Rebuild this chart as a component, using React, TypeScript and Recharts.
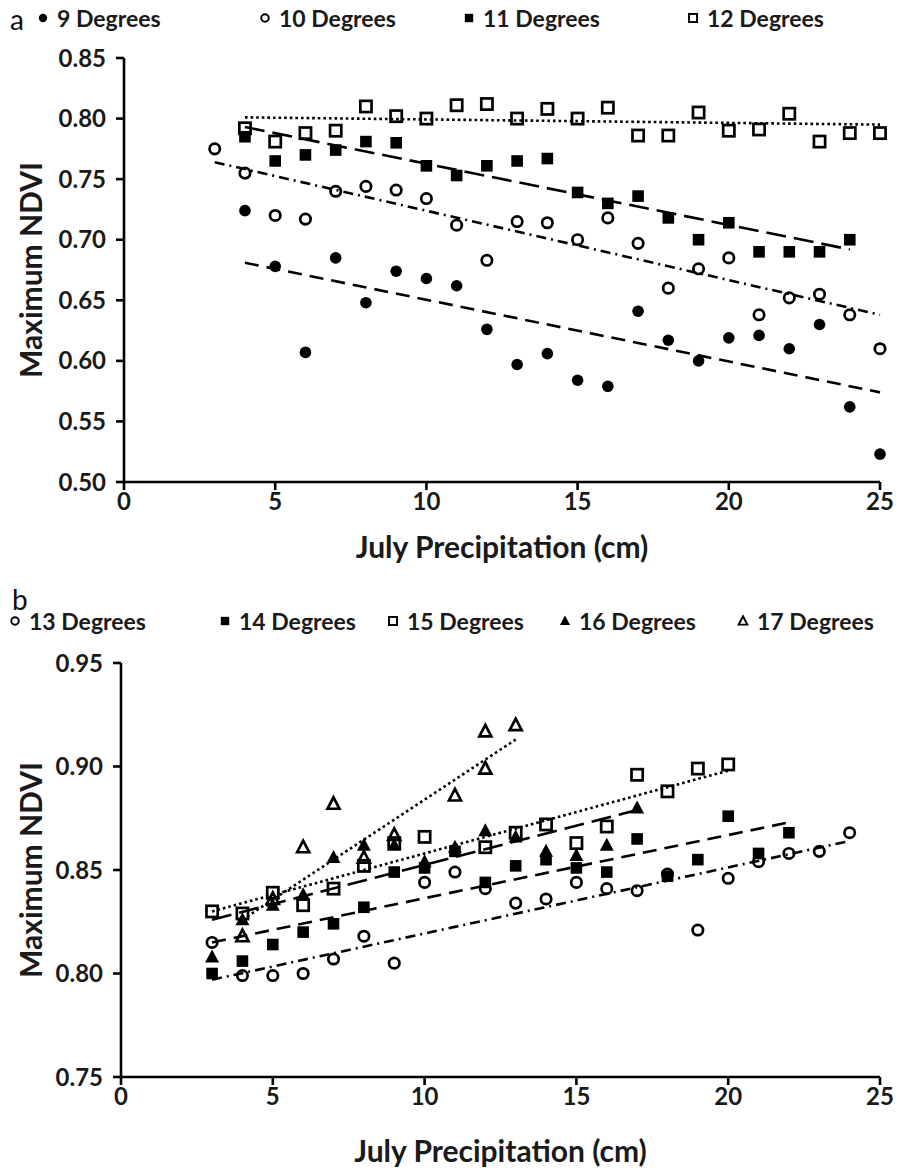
import React from "react";
import { ScatterChart, Scatter, XAxis, YAxis, Label } from "recharts";

// ---- panel a: July precipitation (cm) vs maximum NDVI, 9–12 degrees
const precipA = [3, 4, 5, 6, 7, 8, 9, 10, 11, 12, 13, 14, 15, 16, 17, 18, 19, 20, 21, 22, 23, 24, 25];
const ndvi9 = [null, 0.724, 0.678, 0.607, 0.685, 0.648, 0.674, 0.668, 0.662, 0.626, 0.597, 0.606, 0.584, 0.579, 0.641, 0.617, 0.6, 0.619, 0.621, 0.61, 0.63, 0.562, 0.523];
const ndvi10 = [0.775, 0.755, 0.72, 0.717, 0.74, 0.744, 0.741, 0.734, 0.712, 0.683, 0.715, 0.714, 0.7, 0.718, 0.697, 0.66, 0.676, 0.685, 0.638, 0.652, 0.655, 0.638, 0.61];
const ndvi11 = [null, 0.785, 0.765, 0.77, 0.774, 0.781, 0.78, 0.761, 0.753, 0.761, 0.765, 0.767, 0.739, 0.73, 0.736, 0.718, 0.7, 0.714, 0.69, 0.69, 0.69, 0.7, null];
const ndvi12 = [null, 0.792, 0.781, 0.788, 0.79, 0.81, 0.802, 0.8, 0.811, 0.812, 0.8, 0.808, 0.8, 0.809, 0.786, 0.786, 0.805, 0.79, 0.791, 0.804, 0.781, 0.788, 0.788];
// trend line end points [precip, ndvi]
const trend9 = [[4, 0.681], [25, 0.574]];
const trend10 = [[3, 0.764], [25, 0.638]];
const trend11 = [[4, 0.793], [24, 0.692]];
const trend12 = [[4, 0.801], [25, 0.795]];
const ticksA = [0.5, 0.55, 0.6, 0.65, 0.7, 0.75, 0.8, 0.85];

// ---- panel b: 13–17 degrees
const precipB = [3, 4, 5, 6, 7, 8, 9, 10, 11, 12, 13, 14, 15, 16, 17, 18, 19, 20, 21, 22, 23, 24];
const ndvi13 = [0.815, 0.799, 0.799, 0.8, 0.807, 0.818, 0.805, 0.844, 0.849, 0.841, 0.834, 0.836, 0.844, 0.841, 0.84, 0.848, 0.821, 0.846, 0.854, 0.858, 0.859, 0.868];
const ndvi14 = [0.8, 0.806, 0.814, 0.82, 0.824, 0.832, 0.849, 0.851, 0.859, 0.844, 0.852, 0.855, 0.851, 0.849, 0.865, 0.847, 0.855, 0.876, 0.858, 0.868, null, null];
const ndvi15 = [0.83, 0.829, 0.839, 0.833, 0.841, 0.852, 0.863, 0.866, null, 0.861, 0.868, 0.872, 0.863, 0.871, 0.896, 0.888, 0.899, 0.901, null, null, null, null];
const ndvi16 = [0.808, 0.826, 0.833, 0.838, 0.856, 0.862, 0.862, 0.854, 0.861, 0.869, 0.866, 0.859, 0.857, 0.862, 0.88, null, null, null, null, null, null, null];
const precip17 = [4, 5, 6, 7, 8, 9, 11, 12, 12, 13];
const ndvi17 = [0.818, 0.836, 0.861, 0.882, 0.856, 0.867, 0.886, 0.899, 0.917, 0.92];
const trend13 = [[3, 0.797], [24, 0.864]];
const trend14 = [[3, 0.815], [22, 0.873]];
const trend15 = [[3, 0.83], [20, 0.898]];
const trend16 = [[3, 0.826], [17, 0.879]];
const trend17 = [[4, 0.826], [13, 0.913]];
const ticksB = [0.75, 0.8, 0.85, 0.9, 0.95];

const xTicks = [0, 5, 10, 15, 20, 25];

const toPoints = (xs: number[], ys: (number | null)[]) =>
  xs.map((x, i) => ({ x, y: ys[i] })).filter((p) => p.y != null);
const toLine = (pairs: number[][]) => pairs.map(([x, y]) => ({ x, y }));

const FONT = "Lato, 'Open Sans', sans-serif";
const INK = "#000";

type Kind = "dot" | "ring" | "box" | "hollowBox" | "tri" | "hollowTri";

function Mark({ kind, cx, cy, s = 1 }: { kind: Kind; cx: number; cy: number; s?: number }) {
  switch (kind) {
    case "dot":
      return <circle cx={cx} cy={cy} r={5.8 * s} fill={INK} />;
    case "ring":
      return <circle cx={cx} cy={cy} r={5.2 * s} fill="none" stroke={INK} strokeWidth={2.7 * s} />;
    case "box":
      return <rect x={cx - 5.8 * s} y={cy - 5.8 * s} width={11.6 * s} height={11.6 * s} fill={INK} />;
    case "hollowBox":
      return (
        <rect x={cx - 5.6 * s} y={cy - 5.6 * s} width={11.2 * s} height={11.2 * s} fill="none" stroke={INK} strokeWidth={2.7 * s} />
      );
    case "tri":
      return <polygon points={`${cx},${cy - 7.5 * s} ${cx + 7 * s},${cy + 5.5 * s} ${cx - 7 * s},${cy + 5.5 * s}`} fill={INK} />;
    case "hollowTri":
      return (
        <polygon
          points={`${cx},${cy - 6.5 * s} ${cx + 6 * s},${cy + 5 * s} ${cx - 6 * s},${cy + 5 * s}`}
          fill="none"
          stroke={INK}
          strokeWidth={2.7 * s}
        />
      );
  }
}

const shapeOf = (kind: Kind) => (p: any) =>
  p.cx == null || p.cy == null ? <g /> : <Mark kind={kind} cx={p.cx} cy={p.cy} />;
const noShape = () => <g />;

const tickStyle = { fontSize: 24, fontWeight: 700, fill: "#1a1a1a", fontFamily: FONT };
const titleStyle = { fontSize: 30, fontWeight: 700, fill: "#1a1a1a", fontFamily: FONT };

const yTitle = (props: any) => {
  const vb = props.viewBox || { y: 0, height: 0 };
  const cx = 30;
  const cy = vb.y + vb.height / 2;
  return (
    <text x={cx} y={cy} transform={`rotate(-90, ${cx}, ${cy})`} textAnchor="middle" dominantBaseline="central" style={titleStyle}>
      Maximum NDVI
    </text>
  );
};

function trendLine(data: number[][], dash: string, key: string) {
  return (
    <Scatter
      key={key}
      data={toLine(data)}
      shape={noShape}
      line={{ stroke: INK, strokeWidth: 2.6, strokeDasharray: dash }}
      lineType="joint"
      isAnimationActive={false}
      legendType="none"
    />
  );
}

function LegendRow({ items, top }: { items: { kind: Kind; label: string; left: number }[]; top: number }) {
  return (
    <>
      {items.map((it) => (
        <div
          key={it.label}
          style={{
            position: "absolute",
            left: it.left,
            top,
            display: "flex",
            alignItems: "center",
            fontFamily: FONT,
            fontWeight: 700,
            fontSize: 23,
            color: "#1a1a1a",
            whiteSpace: "nowrap",
          }}
        >
          <svg width={14} height={14} style={{ marginRight: 7 }}>
            <Mark kind={it.kind} cx={7} cy={7} s={0.72} />
          </svg>
          {it.label}
        </div>
      ))}
    </>
  );
}

const DASH = "14 8";
const LONG_DASH = "20 8";
const DASH_DOT = "10 5 2 5";
const DOTS = "2.6 3";

export default function App() {
  const xAxisProps = {
    type: "number" as const,
    dataKey: "x",
    domain: [0, 25],
    ticks: xTicks,
    tick: tickStyle,
    tickSize: 8,
    tickMargin: 3,
    stroke: INK,
    strokeWidth: 2.6,
    tickLine: { stroke: INK, strokeWidth: 2.6 },
  };
  const yAxisProps = {
    type: "number" as const,
    dataKey: "y",
    tick: tickStyle,
    tickSize: 8,
    tickMargin: 10,
    tickFormatter: (v: number) => v.toFixed(2),
    stroke: INK,
    strokeWidth: 2.6,
    tickLine: { stroke: INK, strokeWidth: 2.6 },
  };
  return (
    <div style={{ position: "absolute", left: 0, top: 0, width: 899, height: 1173, background: "#fff" }}>
      <div style={{ position: "absolute", left: 10, top: 2, fontFamily: FONT, fontSize: 28, color: "#111" }}>a</div>
      <LegendRow
        top={4}
        items={[
          { kind: "dot", label: "9 Degrees", left: 36 },
          { kind: "ring", label: "10 Degrees", left: 258 },
          { kind: "box", label: "11 Degrees", left: 462 },
          { kind: "hollowBox", label: "12 Degrees", left: 686 },
        ]}
      />
      <div style={{ position: "absolute", left: 0, top: 0 }}>
        <ScatterChart width={899} height={580} margin={{ top: 58, right: 19, bottom: 0, left: 0 }}>
          <XAxis {...xAxisProps} height={98}>
            <Label value="July Precipitation (cm)" position="insideBottom" offset={22} style={titleStyle} />
          </XAxis>
          <YAxis {...yAxisProps} domain={[0.5, 0.85]} ticks={ticksA} width={124}>
            <Label content={yTitle} />
          </YAxis>
          {trendLine(trend9, DASH, "t9")}
          {trendLine(trend10, DASH_DOT, "t10")}
          {trendLine(trend11, LONG_DASH, "t11")}
          {trendLine(trend12, DOTS, "t12")}
          <Scatter name="9 Degrees" data={toPoints(precipA, ndvi9)} shape={shapeOf("dot")} isAnimationActive={false} />
          <Scatter name="10 Degrees" data={toPoints(precipA, ndvi10)} shape={shapeOf("ring")} isAnimationActive={false} />
          <Scatter name="11 Degrees" data={toPoints(precipA, ndvi11)} shape={shapeOf("box")} isAnimationActive={false} />
          <Scatter name="12 Degrees" data={toPoints(precipA, ndvi12)} shape={shapeOf("hollowBox")} isAnimationActive={false} />
        </ScatterChart>
      </div>

      <div style={{ position: "absolute", left: 12, top: 582, fontFamily: FONT, fontSize: 28, color: "#111" }}>b</div>
      <LegendRow
        top={607}
        items={[
          { kind: "ring", label: "13 Degrees", left: 8 },
          { kind: "box", label: "14 Degrees", left: 218 },
          { kind: "hollowBox", label: "15 Degrees", left: 386 },
          { kind: "tri", label: "16 Degrees", left: 558 },
          { kind: "hollowTri", label: "17 Degrees", left: 736 },
        ]}
      />
      <div style={{ position: "absolute", left: 0, top: 585 }}>
        <ScatterChart width={899} height={588} margin={{ top: 78, right: 19, bottom: 0, left: 0 }}>
          <XAxis {...xAxisProps} height={96}>
            <Label value="July Precipitation (cm)" position="insideBottom" offset={11} style={titleStyle} />
          </XAxis>
          <YAxis {...yAxisProps} domain={[0.75, 0.95]} ticks={ticksB} width={121}>
            <Label content={yTitle} />
          </YAxis>
          {trendLine(trend13, DASH_DOT, "t13")}
          {trendLine(trend14, DASH, "t14")}
          {trendLine(trend15, DOTS, "t15")}
          {trendLine(trend16, LONG_DASH, "t16")}
          {trendLine(trend17, DOTS, "t17")}
          <Scatter name="13 Degrees" data={toPoints(precipB, ndvi13)} shape={shapeOf("ring")} isAnimationActive={false} />
          <Scatter name="14 Degrees" data={toPoints(precipB, ndvi14)} shape={shapeOf("box")} isAnimationActive={false} />
          <Scatter name="15 Degrees" data={toPoints(precipB, ndvi15)} shape={shapeOf("hollowBox")} isAnimationActive={false} />
          <Scatter name="16 Degrees" data={toPoints(precipB, ndvi16)} shape={shapeOf("tri")} isAnimationActive={false} />
          <Scatter name="17 Degrees" data={toPoints(precip17, ndvi17)} shape={shapeOf("hollowTri")} isAnimationActive={false} />
        </ScatterChart>
      </div>
    </div>
  );
}
